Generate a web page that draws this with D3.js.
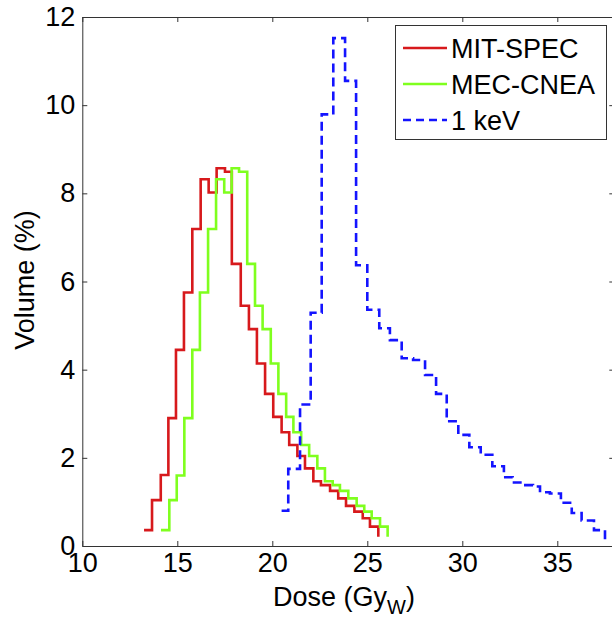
<!DOCTYPE html>
<html>
<head>
<meta charset="utf-8">
<script src="https://cdn.jsdelivr.net/npm/d3@7"></script>
<style>
  body { margin: 0; background: #fff; }
  svg { display: block; font-family: "Liberation Sans", Arial, sans-serif; }
  .axis path, .axis line { stroke: #333; stroke-width: 1; }
  .axis text { font-size: 27px; fill: #000; }
</style>
</head>
<body>
<svg id="chart" width="612" height="620"></svg>
<script>
// Dose bin edges (Gy_W) and volume (%)
const mitDose = [13.25, 13.67, 14.13, 14.53, 14.93, 15.35, 15.79, 16.23, 16.65, 17.07,
  17.51, 17.87, 18.34, 18.77, 19.19, 19.62, 20.05, 20.49, 20.89, 21.32,
  21.72, 22.16, 22.56, 23.04, 23.47, 23.88, 24.32, 24.76, 25.14, 25.58];
const mitVol = [0.36, 1.04, 1.61, 2.90, 4.45, 5.75, 7.19, 8.32, 8.02, 8.57,
  8.49, 6.40, 5.45, 4.92, 4.14, 3.45, 2.93, 2.58, 2.29, 2.04,
  1.76, 1.47, 1.38, 1.25, 1.08, 0.91, 0.78, 0.63, 0.44, 0.21];

const mecDose = [14.14, 14.58, 14.97, 15.37, 15.79, 16.19, 16.62, 17.04, 17.47, 17.86,
  18.25, 18.68, 19.09, 19.49, 19.92, 20.32, 20.73, 21.11, 21.52, 21.94,
  22.37, 22.77, 23.18, 23.56, 24.00, 24.44, 24.84, 25.23, 25.67, 26.07];
const mecVol = [0.36, 1.04, 1.60, 2.90, 4.45, 5.75, 7.19, 8.32, 8.02, 8.57,
  8.49, 6.40, 5.45, 4.92, 4.14, 3.45, 2.93, 2.58, 2.29, 2.04,
  1.76, 1.47, 1.38, 1.25, 1.08, 0.91, 0.78, 0.63, 0.44, 0.21];

const kevDose = [20.49, 20.84, 21.46, 22.02, 22.60, 23.21, 23.83, 24.41, 25.00, 25.63,
  26.19, 26.81, 27.41, 28.04, 28.62, 29.18, 29.79, 30.37, 30.97, 31.58,
  32.19, 32.65, 33.21, 33.72, 34.09, 34.61, 35.19, 35.76, 36.28, 36.93, 37.51];
const kevVol = [0.80, 1.75, 3.21, 5.29, 9.79, 11.52, 10.55, 6.37, 5.36, 4.94,
  4.67, 4.26, 4.22, 3.88, 3.45, 2.83, 2.52, 2.24, 2.07, 1.81,
  1.56, 1.44, 1.38, 1.35, 1.22, 1.19, 0.98, 0.75, 0.58, 0.36, 0.15];

const xTicks = [10, 15, 20, 25, 30, 35];
const yTicks = [0, 2, 4, 6, 8, 10, 12];
const seriesNames = ["MIT-SPEC", "MEC-CNEA", "1 keV"];

const svg = d3.select("#chart");
const plotL = 82.3, plotT = 17, plotR = 614.3, plotB = 546;

const x = d3.scaleLinear().domain([10, 38]).range([plotL, plotR]);
const y = d3.scaleLinear().domain([0, 12]).range([plotB, plotT]);

// box with inward ticks on all sides
svg.append("g").attr("class", "axis")
  .attr("transform", `translate(0,${plotB})`)
  .call(d3.axisBottom(x).tickValues(xTicks).tickSizeInner(-5).tickSizeOuter(0).tickPadding(7));
svg.append("g").attr("class", "axis")
  .attr("transform", `translate(${plotL},0)`)
  .call(d3.axisLeft(y).tickValues(yTicks).tickSizeInner(-5).tickSizeOuter(0).tickPadding(7));
svg.append("g").attr("class", "axis")
  .attr("transform", `translate(0,${plotT})`)
  .call(d3.axisTop(x).tickValues(xTicks).tickSizeInner(-5).tickSizeOuter(0).tickFormat(""));
svg.append("g").attr("class", "axis")
  .attr("transform", `translate(${plotR},0)`)
  .call(d3.axisRight(y).tickValues(yTicks).tickSizeInner(-5).tickSizeOuter(0).tickFormat(""));

// stairs
const stairs = d3.line().x(d => x(d[0])).y(d => y(d[1])).curve(d3.curveStepAfter);
const curves = [
  { xs: mitDose, ys: mitVol, color: "#d7191c", dash: null },
  { xs: mecDose, ys: mecVol, color: "#7fff1e", dash: null },
  { xs: kevDose, ys: kevVol, color: "#1414ff", dash: "9,5" }
];
curves.forEach(c => {
  svg.append("path")
    .datum(d3.zip(c.xs, c.ys))
    .attr("d", stairs)
    .attr("fill", "none")
    .attr("stroke", c.color)
    .attr("stroke-width", 2.6)
    .attr("stroke-dasharray", c.dash);
});

// legend
const lg = svg.append("g");
lg.append("rect")
  .attr("x", 395.5).attr("y", 25.5).attr("width", 211).attr("height", 114)
  .attr("fill", "#fff").attr("stroke", "#333").attr("stroke-width", 1);
seriesNames.forEach((name, i) => {
  const yy = 48 + i * 36;
  lg.append("line")
    .attr("x1", 403).attr("x2", 447).attr("y1", yy).attr("y2", yy)
    .attr("stroke", curves[i].color).attr("stroke-width", 2.6)
    .attr("stroke-dasharray", i === 2 ? "8,5" : null);
  lg.append("text")
    .attr("x", 451).attr("y", yy + 9.5)
    .attr("font-size", 27)
    .text(name);
});

// axis labels
svg.append("text")
  .attr("transform", "translate(34,280) rotate(-90)")
  .attr("text-anchor", "middle")
  .attr("font-size", 27)
  .text("Volume (%)");

const xl = svg.append("text")
  .attr("x", 344).attr("y", 606)
  .attr("text-anchor", "middle")
  .attr("font-size", 27);
xl.append("tspan").text("Dose (Gy");
xl.append("tspan").attr("font-size", 20).attr("dy", 8).text("W");
xl.append("tspan").attr("dy", -8).text(")");
</script>
</body>
</html>
